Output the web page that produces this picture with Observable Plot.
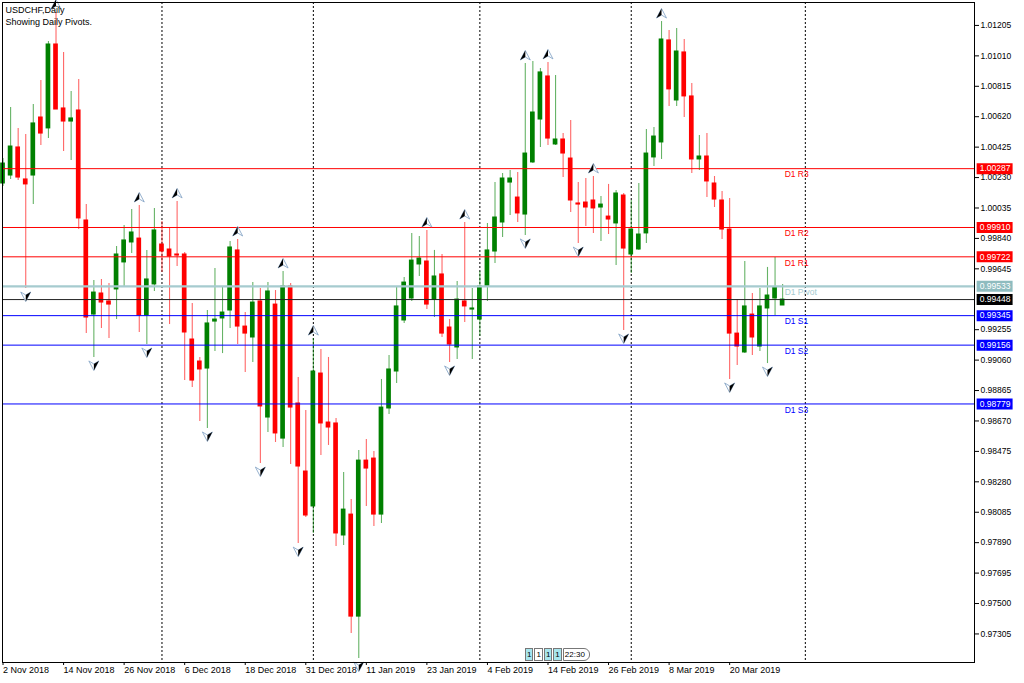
<!DOCTYPE html>
<html><head><meta charset="utf-8">
<script src="https://cdn.jsdelivr.net/npm/d3@7"></script>
<script src="https://cdn.jsdelivr.net/npm/@observablehq/plot@0.6"></script>
<style>
body{margin:0;background:#fff;font-family:"Liberation Sans",Arial,sans-serif}
#chart{position:relative;width:1024px;height:683px;overflow:hidden}
#tf{position:absolute;left:525px;top:648px;display:flex;gap:1px;font-size:8px;line-height:11px}
#tf span{display:inline-block;border:1px solid #777;height:11px;padding:0 1px;color:#000}
#tf .c{background:#a8e6ee}
#tf .t{background:#fff;border-radius:0 6px 6px 0;padding-right:4px}
</style>
</head><body><div id="chart"></div><script>
// ---- data (USDCHF daily, bar index 0 = 2 Nov 2018) ----
const open=[1.00192,1.00243,1.00423,1.00218,1.00243,1.00615,1.00545,1.01083,1.00673,1.00589,1.00660,0.99955,0.99352,0.99487,0.99436,0.99513,0.99686,0.99814,0.99839,0.99346,0.99545,0.99801,0.99769,0.99737,0.99737,0.99192,0.99051,0.99006,0.99307,0.99327,0.99378,0.99763,0.99275,0.99205,0.99436,0.98692,0.99416,0.98557,0.99532,0.98782,0.98346,0.98122,0.98974,0.98660,0.98654,0.97936,0.98070,0.97416,0.98416,0.98429,0.98070,0.98750,0.98987,0.99314,0.99455,0.99673,0.99692,0.99448,0.99609,0.99269,0.99141,0.99436,0.99384,0.99320,0.99532,0.99756,0.99942,1.00198,1.00102,0.99993,1.00327,1.00602,1.00878,1.00442,1.00474,1.00352,1.00064,1.00070,1.00083,1.00038,0.99980,0.99936,1.00115,0.99737,0.99769,0.99872,1.00359,1.00455,1.01109,1.00724,1.01032,1.00750,1.00346,1.00365,1.00192,1.00083,0.99897,0.99230,0.99109,0.99352,0.99147,0.99391,0.99455,0.99410];
const high=[1.00352,1.00679,1.00545,1.00506,1.00698,1.00852,1.01102,1.01288,1.01032,1.00782,1.00859,1.00057,0.99570,0.99577,0.99551,0.99788,0.99923,1.00025,1.00051,0.99763,1.00032,0.99948,0.99904,1.00077,0.99750,0.99423,0.99077,0.99378,0.99647,0.99532,0.99820,0.99833,0.99365,0.99557,0.99519,0.99557,0.99506,0.99628,0.99551,0.98948,0.98737,0.99198,0.99128,0.99077,0.98686,0.98340,0.98166,0.98481,0.98551,0.98474,0.98936,0.99089,0.99532,0.99589,0.99872,0.99852,0.99891,0.99763,0.99737,0.99320,0.99564,0.99942,0.99519,0.99628,0.99936,1.00198,1.00256,1.00275,1.00263,1.00961,1.00974,1.00929,1.00968,1.00884,1.00512,1.00596,1.00198,1.00224,1.00237,1.00109,1.00186,1.00147,1.00128,1.00083,1.00192,1.00538,1.00551,1.01230,1.01173,1.01186,1.01115,1.00833,1.00500,1.00512,1.00237,1.00141,1.00096,0.99448,0.99692,0.99487,0.99519,0.99654,0.99718,0.99545];
const low=[1.00173,1.00218,1.00211,0.99519,1.00057,1.00436,1.00480,1.00666,1.00397,1.00339,0.99897,0.99230,0.99077,0.99263,0.99198,0.99320,0.99532,0.99743,0.99237,0.99160,0.99500,0.99622,0.99288,0.99660,0.98929,0.98884,0.98666,0.98622,0.99115,0.99102,0.99263,0.99160,0.98981,0.99045,0.98397,0.98596,0.98532,0.98500,0.98391,0.97884,0.98051,0.97949,0.98448,0.98513,0.97865,0.97872,0.97308,0.97147,0.98122,0.97993,0.98013,0.98711,0.98910,0.99295,0.99436,0.99596,0.99384,0.99333,0.99205,0.99045,0.99064,0.99301,0.99064,0.99211,0.99436,0.99679,0.99846,0.99987,0.99942,0.99859,1.00320,1.00423,1.00436,1.00436,1.00230,1.00006,0.99807,0.99916,0.99872,0.99820,0.99865,0.99666,0.99250,0.99615,0.99763,0.99807,1.00301,1.00346,1.00686,1.00686,1.00615,1.00256,1.00275,1.00102,1.00038,0.99833,0.98936,0.99025,0.99102,0.99089,0.99115,0.99038,0.99346,0.99410];
const close=[1.00320,1.00429,1.00230,1.00186,1.00577,1.00512,1.01083,1.00666,1.00589,1.00609,0.99968,0.99333,0.99493,0.99429,0.99416,0.99737,0.99827,0.99878,0.99346,0.99577,0.99891,0.99756,0.99724,0.99730,0.99237,0.98929,0.99000,0.99295,0.99320,0.99365,0.99782,0.99275,0.99230,0.99429,0.98763,0.99500,0.98590,0.99532,0.98756,0.98378,0.98064,0.98987,0.98654,0.98628,0.97949,0.98102,0.97416,0.98416,0.98365,0.98070,0.98756,0.99000,0.99404,0.99557,0.99698,0.99711,0.99416,0.99596,0.99230,0.99160,0.99448,0.99404,0.99391,0.99532,0.99763,0.99974,1.00224,1.00224,1.00000,1.00384,1.00647,1.00904,1.00480,1.00474,1.00384,1.00083,1.00057,1.00038,1.00032,1.00057,0.99961,1.00128,0.99775,0.99897,0.99865,1.00384,1.00493,1.01115,1.00795,1.01038,1.00750,1.00346,1.00365,1.00205,1.00089,0.99897,0.99230,0.99147,0.99404,0.99205,0.99404,0.99474,0.99525,0.99448];
const dateLabels=["2 Nov 2018","14 Nov 2018","26 Nov 2018","6 Dec 2018","18 Dec 2018","31 Dec 2018","11 Jan 2019","23 Jan 2019","4 Feb 2019","14 Feb 2019","26 Feb 2019","8 Mar 2019","20 Mar 2019"];
const dateTickIndex=[0,8,16,24,32,40,48,56,64,72,80,88,96];
const priceTicks=[1.01205,1.01010,1.00815,1.00620,1.00425,1.00230,1.00035,0.99840,0.99645,0.99255,0.99060,0.98865,0.98670,0.98475,0.98280,0.98085,0.97890,0.97695,0.97500,0.97305];
const separatorIndex=[21,41,63,83,106];
const pivotNames=["D1 R3","D1 R2","D1 R1","D1 Pivot","D1 S1","D1 S2","D1 S3"];
const pivotValues=[1.00287,0.99910,0.99722,0.99533,0.99345,0.99156,0.98779];
const pivotColors=["#ff0000","#ff0000","#ff0000","#a6cbcf","#0000ff","#0000ff","#0000ff"];
const pivotTagColors=["#ff0000","#ff0000","#ff0000","#8ebcbf","#0000ff","#0000ff","#0000ff"];
const currentPrice=0.99448;
const fractalUpIndex=[7,18,23,31,37,41,56,61,69,72,78,87];
const fractalDownIndex=[3,12,19,27,34,39,47,59,69,76,82,96,101];

// ---- build ----
const GREEN="#008000", RED="#ff0000";
const candles=open.map((o,i)=>({i,open:o,high:high[i],low:low[i],close:close[i],col:close[i]>=o?GREEN:RED}));
const pivots=pivotNames.map((n,k)=>({name:n,value:pivotValues[k],color:pivotColors[k],tag:pivotTagColors[k]}));
const tags=[...pivots.map(p=>({value:p.value,bg:p.tag})),{value:currentPrice,bg:"#000000"}];
const xDomain=[-0.07,128.35];
const tagX1=xDomain[1]+0.35, tagX2=tagX1+4.75;
const fmt=d3.format(".5f");

const upHalfL={draw(c){c.moveTo(0,-5);c.lineTo(0,1.5);c.lineTo(-5,4.5);c.closePath();}};
const upFull={draw(c){c.moveTo(0,-5);c.lineTo(5,4.5);c.lineTo(0,1.5);c.lineTo(-5,4.5);c.closePath();}};
const dnHalfR={draw(c){c.moveTo(0,5);c.lineTo(0,-1.5);c.lineTo(5,-4.5);c.closePath();}};
const dnFull={draw(c){c.moveTo(0,5);c.lineTo(5,-4.5);c.lineTo(0,-1.5);c.lineTo(-5,-4.5);c.closePath();}};
const ups=fractalUpIndex.map(i=>candles[i]);
const dns=fractalDownIndex.map(i=>candles[i]);

const chart=Plot.plot({
  width:1024,height:683,
  marginLeft:2,marginRight:50,marginTop:2,marginBottom:21,
  style:{background:"#fff",fontFamily:"'Liberation Sans',Arial,sans-serif",fontSize:"9px",overflow:"visible"},
  x:{domain:xDomain},
  y:{domain:[0.97122,1.01352]},
  color:{type:"identity"},
  marks:[
    Plot.ruleX(separatorIndex,{stroke:"#000",strokeDasharray:"2,2",strokeWidth:1}),
    Plot.ruleX(candles,{x:"i",y1:"low",y2:"high",stroke:"col",strokeOpacity:0.6,strokeWidth:1.1}),
    Plot.rect(candles,{x1:d=>d.i-0.31,x2:d=>d.i+0.31,y1:"open",y2:"close",fill:"col",insetTop:-0.5,insetBottom:-0.5}),
    Plot.ruleY(pivots.filter(p=>p.name!=="D1 Pivot"),{y:"value",stroke:"color",strokeWidth:1}),
    Plot.ruleY(pivots.filter(p=>p.name==="D1 Pivot"),{y:"value",stroke:"color",strokeWidth:2.2}),
    Plot.ruleY([currentPrice],{stroke:"#222",strokeWidth:1}),
    Plot.text(pivots,{x:candles.length-1,y:"value",text:"name",fill:"color",textAnchor:"start",dx:2,dy:6,fontSize:8.5}),
    Plot.dot(ups,{x:"i",y:"high",dy:-8,symbol:upFull,r:4,fill:"#fff",stroke:"#8aa8c8",strokeWidth:0.9}),
    Plot.dot(ups,{x:"i",y:"high",dy:-8,symbol:upHalfL,r:4,fill:"#000"}),
    Plot.dot(dns,{x:"i",y:"low",dy:8,symbol:dnFull,r:4,fill:"#fff",stroke:"#8aa8c8",strokeWidth:0.9}),
    Plot.dot(dns,{x:"i",y:"low",dy:8,symbol:dnHalfR,r:4,fill:"#000"}),
    Plot.frame({stroke:"#000"}),
    Plot.axisY({ticks:priceTicks,anchor:"right",tickSize:4,tickPadding:2,tickFormat:fmt,fontSize:8.5,label:null,stroke:"#000"}),
    Plot.axisX({ticks:dateTickIndex,tickFormat:d=>dateLabels[dateTickIndex.indexOf(d)],tickSize:3,tickPadding:1,textAnchor:"start",dx:0,fontSize:9,label:null}),
    Plot.ruleY(tags,{y:"value",x1:tagX1,x2:tagX2,stroke:"bg",strokeWidth:11}),
    Plot.text(tags,{x:(tagX1+tagX2)/2,y:"value",text:d=>fmt(d.value),fill:"#fff",fontSize:8.5}),
    Plot.text(["USDCHF,Daily\nShowing Daily Pivots."],{frameAnchor:"top-left",dx:3,dy:2,lineAnchor:"top",lineHeight:1.3,fontSize:9,fill:"#000"})
  ]
});
const root=document.getElementById("chart");
root.appendChild(chart);
const tf=document.createElement("div");
tf.id="tf";
tf.innerHTML='<span class="c">1</span><span>1</span><span class="c">1</span><span class="c">1</span><span class="t">22:30</span>';
root.appendChild(tf);
</script></body></html>
